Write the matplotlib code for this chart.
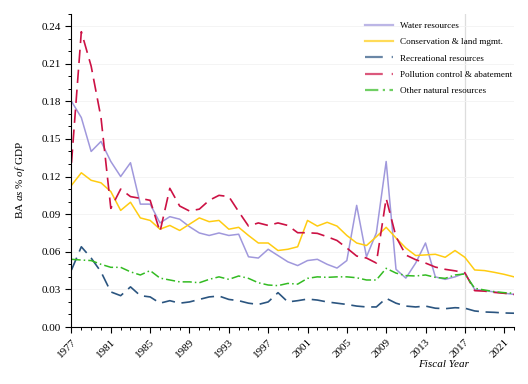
import matplotlib
matplotlib.use("Agg")
import matplotlib.pyplot as plt
from matplotlib.ticker import MultipleLocator
import numpy as np

years = list(range(1977, 2023))

water = [0.180, 0.167, 0.140, 0.148, 0.132, 0.120, 0.131, 0.098, 0.098, 0.083,
         0.088, 0.086, 0.080, 0.075, 0.073, 0.075, 0.073, 0.074, 0.056, 0.055,
         0.062, 0.057, 0.052, 0.049, 0.053, 0.054, 0.050, 0.047, 0.053, 0.097,
         0.056, 0.075, 0.132, 0.046, 0.039, 0.051, 0.067, 0.040, 0.038, 0.040,
         0.043, 0.030, 0.029, 0.028, 0.027, 0.026]

conservation = [0.113, 0.123, 0.117, 0.115, 0.108, 0.093, 0.0995, 0.087, 0.085, 0.078,
                0.081, 0.077, 0.082, 0.087, 0.084, 0.085, 0.078, 0.0795, 0.073, 0.067,
                0.067, 0.061, 0.062, 0.064, 0.085, 0.0805, 0.0835, 0.0805, 0.073, 0.067,
                0.065, 0.072, 0.0795, 0.071, 0.063, 0.057, 0.0575, 0.058, 0.0556, 0.061,
                0.0556, 0.0455, 0.045, 0.0436, 0.042, 0.040]

recreational = [0.0455, 0.064, 0.055, 0.044, 0.028, 0.025, 0.032, 0.025, 0.024, 0.019,
                0.021, 0.019, 0.020, 0.022, 0.024, 0.0247, 0.022, 0.021, 0.019, 0.018,
                0.020, 0.0274, 0.020, 0.021, 0.0223, 0.0215, 0.020, 0.019, 0.018, 0.0167,
                0.016, 0.016, 0.0229, 0.019, 0.0167, 0.016, 0.0167, 0.015, 0.0146, 0.0154,
                0.015, 0.0128, 0.012, 0.0117, 0.0112, 0.011]

pollution = [0.131, 0.2355, 0.208, 0.167, 0.0946, 0.110, 0.104, 0.1026, 0.101, 0.076,
             0.1106, 0.0965, 0.0925, 0.094, 0.101, 0.105, 0.104, 0.092, 0.0805, 0.083,
             0.081, 0.083, 0.081, 0.0752, 0.0752, 0.0747, 0.072, 0.069, 0.063, 0.0566,
             0.055, 0.051, 0.1026, 0.072, 0.0574, 0.0537, 0.051, 0.0478, 0.046, 0.0448,
             0.0433, 0.029, 0.0286, 0.0276, 0.0269, 0.026]

other = [0.054, 0.0534, 0.053, 0.050, 0.0476, 0.0476, 0.044, 0.0415, 0.045, 0.039,
         0.0375, 0.036, 0.036, 0.0353, 0.038, 0.040, 0.038, 0.0407, 0.0388, 0.0353,
         0.0335, 0.033, 0.0348, 0.0342, 0.0388, 0.040, 0.0396, 0.040, 0.040, 0.0393,
         0.0375, 0.0375, 0.0468, 0.043, 0.041, 0.0407, 0.0415, 0.0396, 0.0388, 0.0415,
         0.0423, 0.0309, 0.0295, 0.0282, 0.0274, 0.0269]

labels = ["Water resources", "Conservation & land mgmt.", "Recreational resources",
          "Pollution control & abatement", "Other natural resources"]
colors = ["#a098dc", "#ffcc11", "#2b5580", "#cc1144", "#33bb22"]

plt.rcParams['font.family'] = ['Liberation Serif', 'DejaVu Serif']
plt.rcParams['mathtext.fontset'] = 'custom'
plt.rcParams['mathtext.rm'] = 'Liberation Serif'
plt.rcParams['mathtext.it'] = 'Liberation Serif:italic'

fig = plt.figure(figsize=(5.28, 3.84), dpi=100)
ax = fig.add_axes([0.1354, 0.1484, 0.8381, 0.8164])

ax.plot(years, water, color=colors[0], lw=1.1, label=labels[0])
ax.plot(years, conservation, color=colors[1], lw=1.1, label=labels[1])
ax.plot(years, recreational, color=colors[2], lw=1.2, dashes=(8, 4), label=labels[2])
ax.plot(years, pollution, color=colors[3], lw=1.2, dashes=(8, 4), label=labels[3])
ax.plot(years, other, color=colors[4], lw=1.1, dashes=(6, 2, 1, 2), label=labels[4])

ax.axvline(2017, color="#dddddd", lw=0.9, zorder=0)

ax.set_xlim(1977, 2022)
ax.set_ylim(0, 0.25)
ax.set_yticks(np.arange(0, 0.241, 0.03))
ax.set_yticklabels([f"{v:.2f}" for v in np.arange(0, 0.241, 0.03)])
ax.yaxis.set_minor_locator(MultipleLocator(0.01))
ax.set_xticks(list(range(1977, 2022, 4)))
ax.xaxis.set_minor_locator(MultipleLocator(1))
for lab in ax.get_xticklabels():
    lab.set_rotation(45)
    lab.set_ha("right")
    lab.set_rotation_mode("anchor")

ax.grid(axis="y", color="#f2f2f2", lw=0.6)
ax.set_axisbelow(True)
for s in ["top", "right"]:
    ax.spines[s].set_visible(False)
ax.tick_params(axis="both", which="major", labelsize=8, length=4, width=0.8, direction="out")
ax.tick_params(axis="both", which="minor", length=2.5, width=0.7, direction="out")

ax.set_ylabel(r"BA $\mathit{as}$ % $\mathit{of}$ GDP", fontsize=8)
ax.yaxis.set_label_coords(-0.1, 0.47)
ax.set_xlabel("Fiscal Year", fontsize=8, style="italic")
ax.xaxis.set_label_coords(0.84, -0.105)

leg = ax.legend(loc="upper right", bbox_to_anchor=(1.015, 1.0), frameon=False, fontsize=6.6,
                handlelength=3.0, labelspacing=0.85)
for h in leg.get_lines():
    h.set_alpha(0.7)
    h.set_linewidth(1.6)

fig.savefig("out.png", dpi=100)
